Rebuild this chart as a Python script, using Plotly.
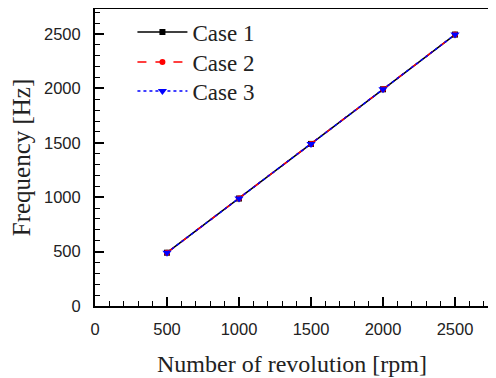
import plotly.graph_objects as go

rpm = [500, 1000, 1500, 2000, 2500]
case1 = [490, 988, 1490, 1992, 2495]
case2 = [490, 988, 1490, 1992, 2495]
case3 = [490, 988, 1490, 1992, 2495]
names = ["Case 1", "Case 2", "Case 3"]
ticks = [0, 500, 1000, 1500, 2000, 2500]

fig = go.Figure()
fig.add_trace(go.Scatter(x=rpm, y=case1, name=names[0], mode="lines+markers", legend="legend",
                         line=dict(color="black", width=1.5, dash="solid"),
                         marker=dict(symbol="square", size=6, color="black")))
fig.add_trace(go.Scatter(x=rpm, y=case2, name=names[1], mode="lines+markers", legend="legend2",
                         line=dict(color="red", width=1.5, dash="dash"),
                         marker=dict(symbol="circle", size=6, color="red")))
fig.add_trace(go.Scatter(x=rpm, y=case3, name=names[2], mode="lines+markers", legend="legend3",
                         line=dict(color="blue", width=1.5, dash="dot"),
                         marker=dict(symbol="triangle-down", size=8, color="blue")))

tickfont = dict(family="Liberation Sans", size=16.5, color="#222")
titlefont = dict(family="Liberation Serif", size=24, color="#222")
legfont = dict(family="Liberation Serif", size=23, color="#222")

def leg(yv):
    return dict(x=0.095, y=yv, xanchor="left", yanchor="middle", font=legfont,
                bgcolor="rgba(0,0,0,0)", itemwidth=50)

# page body has an 8px margin, so the figure is sized and margined to compensate
fig.update_layout(
    width=488, height=370,
    margin=dict(l=87, r=7, t=1, b=72),
    paper_bgcolor="white", plot_bgcolor="white",
    showlegend=True,
    legend=leg(0.9226), legend2=leg(0.8215), legend3=leg(0.7239),
    xaxis=dict(range=[0, 2736], tickvals=ticks,
               ticks="inside", ticklen=9, tickwidth=1.5, tickcolor="black",
               showline=True, linewidth=2, linecolor="black", mirror=True,
               showgrid=False, zeroline=False, automargin=False,
               tickfont=tickfont, ticklabelstandoff=7,
               minor=dict(ticks="inside", ticklen=5, tickwidth=1.2, dtick=100,
                          tickcolor="black", showgrid=False),
               title=dict(text="Number of revolution [rpm]", standoff=18, font=titlefont)),
    yaxis=dict(range=[0, 2730], tickvals=ticks,
               ticks="inside", ticklen=9, tickwidth=1.5, tickcolor="black",
               showline=True, linewidth=2, linecolor="black", mirror=False,
               showgrid=False, zeroline=False, automargin=False,
               tickfont=tickfont, ticklabelstandoff=9,
               minor=dict(ticks="inside", ticklen=5, tickwidth=1.2, dtick=100,
                          tickcolor="black", showgrid=False),
               title=dict(text="Frequency [Hz]", standoff=10,
                          font=dict(family="Liberation Serif", size=25, color="#222"))),
    shapes=[dict(type="line", xref="paper", yref="paper", x0=1, x1=1, y0=0, y1=1,
                 line=dict(color="#dddddd", width=1))],
)

fig.write_html("out.html")
